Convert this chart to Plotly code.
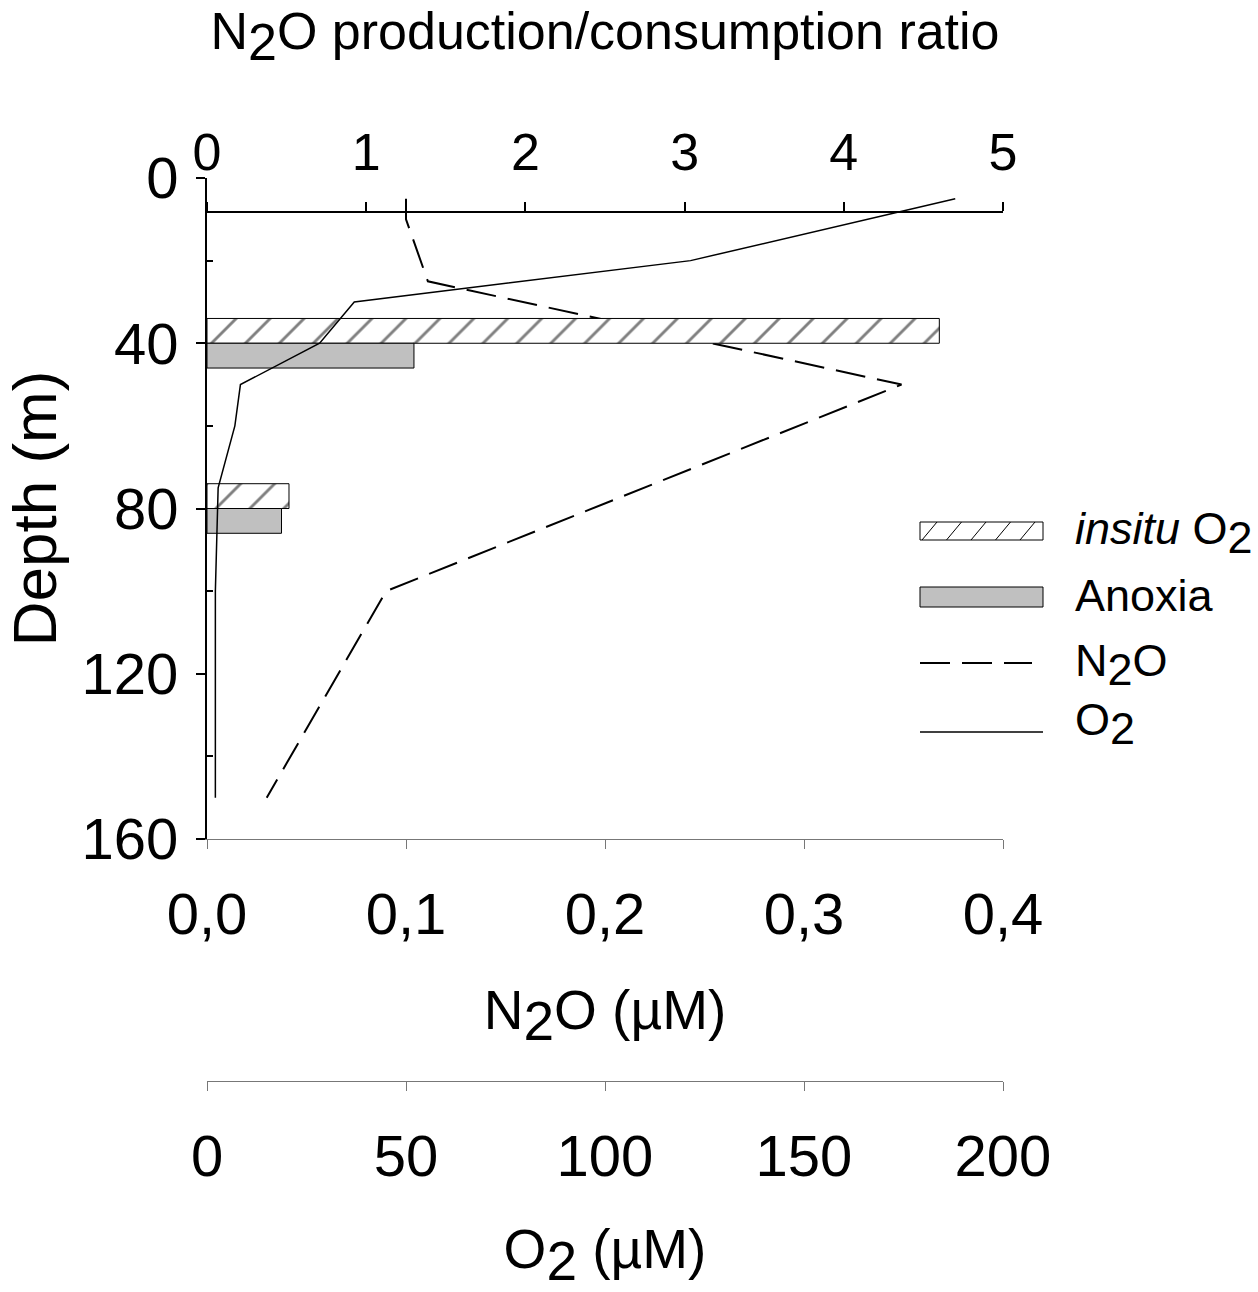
import plotly.graph_objects as go

# ---------------- data ----------------
bar_depth = [40, 80]
ratio_insitu = [4.60, 0.515]
ratio_anoxia = [1.30, 0.468]

n2o_depth = [5, 10, 25, 50, 100, 150]
n2o_um = [0.100, 0.100, 0.111, 0.349, 0.090, 0.030]

o2_depth = [5, 20, 30, 40, 50, 60, 75, 100, 150]
o2_um = [188.0, 121.5, 37.0, 28.3, 8.4, 7.0, 2.8, 2.1, 2.1]

depth_ticks = [0, 40, 80, 120, 160]
depth_minor = [20, 60, 100, 140]
ratio_ticks = [0, 1, 2, 3, 4, 5]
n2o_ticks = [0.0, 0.1, 0.2, 0.3, 0.4]
o2_ticks = [0, 50, 100, 150, 200]

# ---------------- layout helpers ----------------
W, H = 1258, 1292
L, R, T, B = 207, 255, 178, 211
PW, PH = W - L - R, H - T - B


def py(ypx):
    return (H - B - ypx) / PH


def px(xpx):
    return (xpx - L) / PW


FONT = "Liberation Sans, Arial, Helvetica, sans-serif"


def sub2(size):
    return f"<sub><span style='font-size:{size}px'>2</span></sub>"


fig = go.Figure()

fig.add_trace(go.Bar(
    name="insitu O2", y=bar_depth, x=ratio_insitu, orientation="h",
    xaxis="x2", yaxis="y", width=6, offset=-6,
    marker=dict(color="white",
                pattern=dict(shape="/", size=24, solidity=0.12,
                             fgcolor="black", bgcolor="white"),
                line=dict(color="black", width=1)),
    showlegend=False))
fig.add_trace(go.Bar(
    name="Anoxia", y=bar_depth, x=ratio_anoxia, orientation="h",
    xaxis="x2", yaxis="y", width=6, offset=0,
    marker=dict(color="#c0c0c0", line=dict(color="black", width=1)),
    showlegend=False))
fig.add_trace(go.Scatter(
    name="N2O", x=n2o_um, y=n2o_depth, mode="lines", xaxis="x", yaxis="y",
    line=dict(color="black", width=2, dash="30px,12px"), showlegend=False))
fig.add_trace(go.Scatter(
    name="O2", x=o2_um, y=o2_depth, mode="lines", xaxis="x3", yaxis="y",
    line=dict(color="black", width=1.5), showlegend=False))

common = dict(showgrid=False, zeroline=False, showline=True, ticks="outside",
              ticklen=9)

fig.update_layout(
    width=W, height=H, margin=dict(l=L, r=R, t=T, b=B, autoexpand=False),
    paper_bgcolor="white", plot_bgcolor="white",
    font=dict(family=FONT, color="black", size=56),
    separators=",.", barmode="overlay",
    xaxis=dict(domain=[0, 1], range=[0, 0.4], anchor="y", side="bottom",
               tickvals=n2o_ticks, tickformat=".1f", linecolor="#777",
               tickcolor="#777", linewidth=1, tickfont=dict(size=58),
               ticklabelstandoff=15,
               title=dict(text="N" + sub2(55) + "O (µM)", font=dict(size=55),
                          standoff=45),
               **common),
    xaxis2=dict(domain=[0, 1], range=[0, 5], overlaying="x", anchor="free",
                position=py(212), side="top", tickvals=ratio_ticks,
                linecolor="black", tickcolor="black", linewidth=1.5,
                tickwidth=1.5, tickfont=dict(size=52), ticklabelstandoff=11,
                title=dict(text="N" + sub2(52) + "O production/consumption ratio",
                           font=dict(size=52), standoff=56),
                **common),
    xaxis3=dict(domain=[0, 1], range=[0, 200], overlaying="x", anchor="free",
                position=0, side="bottom", tickvals=o2_ticks,
                linecolor="#777", tickcolor="#777", linewidth=1,
                tickfont=dict(size=58), ticklabelstandoff=15,
                title=dict(text="O" + sub2(55) + " (µM)", font=dict(size=55),
                           standoff=58),
                **common),
    yaxis=dict(domain=[py(839), 1], range=[160, 0], tickvals=depth_ticks,
               linecolor="black", tickcolor="black", linewidth=2, tickwidth=2,
               tickfont=dict(size=58), ticklabelstandoff=6,
               minor=dict(tickvals=depth_minor, ticks="inside", ticklen=6,
                          tickcolor="black", tickwidth=1.5),
               title=dict(text="Depth (m)", font=dict(size=62), standoff=17),
               **common),
)

# ---------------- legend (drawn in paper space) ----------------
shapes = []
annos = []
LX0, LX1 = 920, 1043
TX = 1073
LEG_FONT = 45

# insitu O2: hatched box
y0, y1 = 522, 540
shapes.append(dict(type="rect", xref="paper", yref="paper",
                   x0=px(LX0), x1=px(LX1), y0=py(y1), y1=py(y0),
                   line=dict(color="black", width=1), fillcolor="white"))
hh = y1 - y0
dx = 15
for k in range(6):
    xb = LX0 + 2 + 24.5 * k
    if xb >= LX1:
        break
    xa, ya = xb, y1
    xe, ye = xb + dx, y0
    if xe > LX1:
        frac = (LX1 - xa) / (xe - xa)
        xe = LX1
        ye = ya - frac * hh
    shapes.append(dict(type="line", xref="paper", yref="paper",
                       x0=px(xa), y0=py(ya), x1=px(xe), y1=py(ye),
                       line=dict(color="black", width=1)))
annos.append(dict(text="<i>insitu</i> O" + sub2(LEG_FONT), x=px(TX), y=py(533)))

# Anoxia: grey box
shapes.append(dict(type="rect", xref="paper", yref="paper",
                   x0=px(LX0), x1=px(LX1), y0=py(607), y1=py(587),
                   line=dict(color="black", width=1), fillcolor="#c0c0c0"))
annos.append(dict(text="Anoxia", x=px(TX), y=py(595)))

# N2O: dashed
shapes.append(dict(type="line", xref="paper", yref="paper",
                   x0=px(LX0), x1=px(1032), y0=py(663), y1=py(663),
                   line=dict(color="black", width=2, dash="30px,12px")))
annos.append(dict(text="N" + sub2(LEG_FONT) + "O", x=px(TX), y=py(665)))

# O2: solid
shapes.append(dict(type="line", xref="paper", yref="paper",
                   x0=px(LX0), x1=px(LX1), y0=py(732), y1=py(732),
                   line=dict(color="black", width=1.5)))
annos.append(dict(text="O" + sub2(LEG_FONT), x=px(TX), y=py(724)))

for a in annos:
    a.update(xref="paper", yref="paper", xanchor="left", yanchor="middle",
             showarrow=False, font=dict(size=LEG_FONT, family=FONT, color="black"))

fig.update_layout(shapes=shapes, annotations=annos)

fig.write_html("out.html")
